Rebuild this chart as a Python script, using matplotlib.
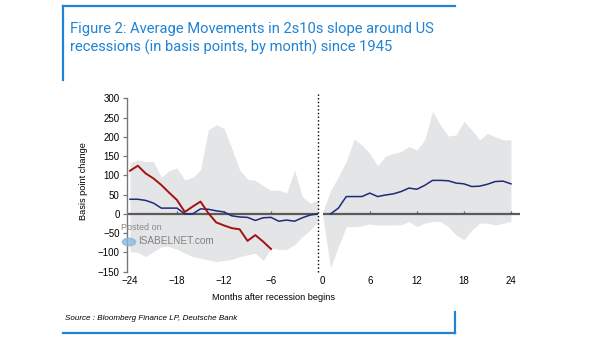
import numpy as np
import matplotlib
matplotlib.use('Agg')
import matplotlib.pyplot as plt
from matplotlib.lines import Line2D

# Months before / after the start of a recession
months_before = list(range(-24, 1))
months_after = list(range(0, 25))

# Average 2s10s slope move (bp) before the recession
avg_before = [38, 38, 35, 28, 15, 15, 15, 0, 0, 13, 12, 8, 5, -5, -8, -9, -17,
              -10, -9, -19, -16, -19, -10, -3, 0]
# Current cycle, only up to six months before
current_months = list(range(-24, -5))
current_before = [112, 125, 105, 92, 75, 55, 36, 5, 19, 32, 2, -22, -30, -37,
                  -40, -70, -55, -72, -91]
# Range of outcomes (min / max) before the recession
high_before = [133, 140, 136, 136, 95, 112, 119, 88, 95, 114, 218, 231, 222,
               170, 114, 90, 87, 73, 61, 62, 54, 114, 45, 28, 36]
low_before = [-98, -100, -111, -98, -85, -85, -92, -102, -111, -115, -119,
              -124, -121, -118, -111, -106, -102, -121, -89, -92, -92, -80,
              -59, -42, -20]

# Average move and range after the recession begins
avg_after = [np.nan, 0, 15, 45, 45, 45, 54, 45, 49, 52, 58, 67, 64, 74, 87, 87,
             86, 80, 78, 71, 72, 77, 84, 85, 78]
high_after = [5, 60, 97, 136, 194, 179, 157, 125, 150, 157, 162, 175, 166, 192,
              266, 231, 202, 205, 240, 218, 192, 209, 200, 192, 192]
low_after = [-5, -140, -85, -33, -33, -31, -26, -29, -29, -29, -28, -20, -33,
             -24, -20, -20, -33, -55, -67, -42, -24, -24, -29, -24, -20]

frame_blue = '#2183d3'
band_grey = '#e4e5e7'
navy = '#1f2a7c'
dark_red = '#a3120f'
zero_grey = '#5a5a5a'
tick_font = ['Liberation Sans', 'DejaVu Sans']

fig = plt.figure(figsize=(6.05, 3.41), dpi=100)
W, H = 605, 341


def fx(px):
    return px / W


def fy(py):
    return 1 - py / H


ax1 = fig.add_axes([fx(126.7), fy(271.7), fx(318 - 126.7), (271.7 - 98.3) / H])
ax2 = fig.add_axes([fx(322.7), fy(271.7), fx(520 - 322.7), (271.7 - 98.3) / H])

ax1.fill_between(months_before, low_before, high_before, color=band_grey, lw=0)
ax1.axhline(0, color=zero_grey, lw=1.6, zorder=2)
ax1.plot(months_before, avg_before, color=navy, lw=1.1, zorder=3)
ax1.plot(current_months, current_before, color=dark_red, lw=1.4, zorder=3)

ax2.fill_between(months_after, low_after, high_after, color=band_grey, lw=0)
ax2.axhline(0, color=zero_grey, lw=1.6, zorder=2)
ax2.plot(months_after, avg_after, color=navy, lw=1.1, zorder=3)

ax1.set_xlim(-24.42, 0)
ax2.set_xlim(0, 25.15)
for ax in (ax1, ax2):
    ax.set_ylim(-150, 300)
    ax.set_facecolor('none')
    for s in ('top', 'right'):
        ax.spines[s].set_visible(False)
    ax.spines['bottom'].set_position(('data', 0))
    ax.spines['bottom'].set_visible(False)
    ax.tick_params(axis='x', direction='in', length=2.5, width=0.9,
                   color=zero_grey, pad=45, labelsize=7)

ax1.set_xticks([-24, -18, -12, -6])
ax2.set_xticks([0, 6, 12, 18, 24])
ax1.set_yticks(range(-150, 301, 50))
ax1.tick_params(axis='y', direction='out', length=3, width=0.9,
                color='#777777', pad=2, labelsize=7)
ax1.spines['left'].set_color('#777777')
ax1.spines['left'].set_linewidth(1.0)
ax2.spines['left'].set_visible(False)
ax2.set_yticks([])
for lab in ax1.get_xticklabels() + ax1.get_yticklabels() + ax2.get_xticklabels():
    lab.set_family(tick_font)

# hide the little tick at -24 and 0 sitting on the axis edges
ax1.xaxis.get_major_ticks()[0].tick1line.set_visible(False)
ax2.xaxis.get_major_ticks()[0].tick1line.set_visible(False)

# dotted marker for the start of the recession
ax1.plot([0, 0], [-150, 316], ls=':', color='black', lw=1.0, clip_on=False,
         zorder=4)

fig.text(fx(83), fy(181), 'Basis point change', rotation=90, ha='center',
         va='center', fontsize=6.6, family=tick_font)
fig.text(fx(274), fy(297), 'Months after recession begins', ha='center',
         va='center', fontsize=6.6, family=tick_font)

# watermark
fig.text(fx(121), fy(228), 'Posted on', ha='left', va='center', fontsize=6.5,
         color='#8a8a8a', family=tick_font)
fig.text(fx(138), fy(241), 'ISABELNET.com', ha='left', va='center',
         fontsize=7.2, color='#808080', family=tick_font)
fig.add_artist(plt.Circle((fx(129), fy(242)), 0.011, transform=fig.transFigure,
                          color='#8fb6d8', alpha=0.8))

# title and source with the blue frame
fig.text(fx(70), fy(52), 'Figure 2: Average Movements in 2s10s slope around US\n'
         'recessions (in basis points, by month) since 1945', ha='left',
         va='baseline', fontsize=10.65, color=frame_blue, family='Roboto',
         linespacing=1.35)
fig.text(fx(65), fy(318), 'Source : Bloomberg Finance LP, Deutsche Bank',
         ha='left', va='center', fontsize=5.8, style='italic',
         family=tick_font)

frame = dict(color=frame_blue, lw=1.6, transform=fig.transFigure)
fig.add_artist(Line2D([fx(63), fx(455)], [fy(6), fy(6)], **frame))
fig.add_artist(Line2D([fx(63), fx(63)], [fy(6), fy(80)], **frame))
fig.add_artist(Line2D([fx(63), fx(455)], [fy(333), fy(333)], **frame))
fig.add_artist(Line2D([fx(455), fx(455)], [fy(312), fy(333)], **frame))

fig.savefig('out.png', dpi=100)
